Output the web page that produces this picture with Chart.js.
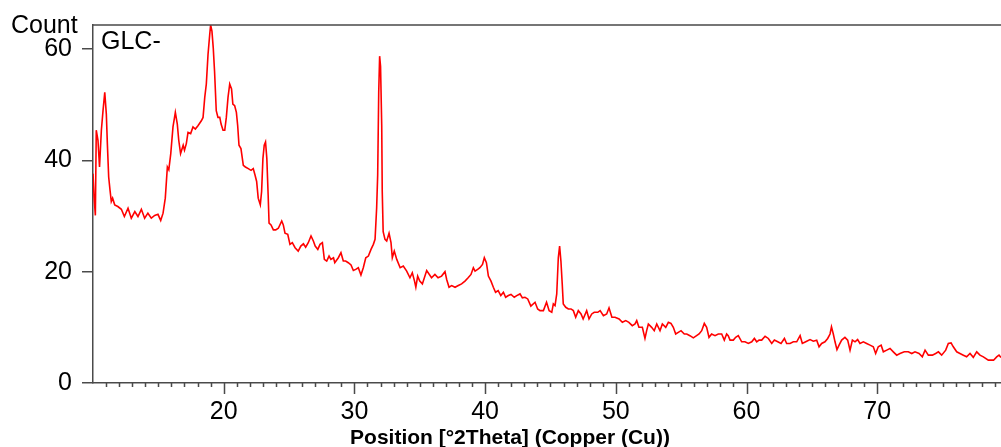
<!DOCTYPE html>
<html>
<head>
<meta charset="utf-8">
<script src="https://cdn.jsdelivr.net/npm/chart.js@4.4.1/dist/chart.umd.min.js"></script>
<style>
  html, body { margin: 0; padding: 0; background: #fff; }
  #wrap { width: 1001px; height: 447px; }
</style>
</head>
<body>
<div id="wrap"><canvas id="xrd"></canvas></div>
<script>
const dos_theta = [
  10.0, 10.08, 10.18, 10.25, 10.38, 10.5, 10.64, 10.77, 10.9, 11.02, 11.1, 11.2, 11.3, 11.4, 11.5, 11.66,
  11.9, 12.17, 12.4, 12.68, 12.93, 13.2, 13.44, 13.7, 13.95, 14.2, 14.46, 14.72, 14.97, 15.18, 15.36,
  15.53, 15.69, 15.8, 15.95, 16.12, 16.3, 16.45, 16.56, 16.7, 16.9, 17.0, 17.14, 17.27, 17.47, 17.65,
  17.83, 18.03, 18.29, 18.42, 18.55, 18.67, 18.8, 18.93, 19.0, 19.1, 19.2, 19.3, 19.43, 19.56, 19.7,
  19.8, 19.95, 20.08, 20.2, 20.33, 20.46, 20.6, 20.7, 20.84, 20.97, 21.07, 21.17, 21.32, 21.5, 21.66,
  21.88, 22.09, 22.26, 22.4, 22.52, 22.64, 22.8, 22.9, 23.0, 23.1, 23.2, 23.3, 23.4, 23.47, 23.62,
  23.8, 23.98, 24.18, 24.44, 24.56, 24.69, 24.9, 25.07, 25.25, 25.46, 25.7, 25.9, 26.1, 26.27, 26.47,
  26.68, 26.86, 27.0, 27.2, 27.37, 27.55, 27.7, 27.88, 28.06, 28.2, 28.4, 28.5, 28.77, 28.97, 29.15,
  29.33, 29.53, 29.74, 29.92, 30.1, 30.3, 30.5, 30.68, 30.87, 31.07, 31.27, 31.45, 31.58, 31.7, 31.78,
  31.86, 31.93, 32.0, 32.09, 32.13, 32.2, 32.34, 32.47, 32.65, 32.8, 32.9, 33.05, 33.24, 33.5, 33.74,
  34.0, 34.25, 34.43, 34.6, 34.7, 34.84, 35.0, 35.2, 35.53, 35.9, 36.16,
  36.4, 36.67, 36.93, 37.06, 37.24, 37.44, 37.7, 37.95, 38.2, 38.46,
  38.7, 38.92, 39.1, 39.23, 39.43, 39.6, 39.8, 39.94, 40.1, 40.25,
  40.45, 40.63, 40.8, 41.0, 41.2, 41.4, 41.57, 41.78, 41.98, 42.23,
  42.42, 42.67, 42.85, 43.05, 43.26, 43.5, 43.82, 44.02, 44.2, 44.46,
  44.7, 44.9, 45.1, 45.22, 45.35, 45.48, 45.6, 45.7, 45.8, 45.9,
  45.98, 46.17, 46.37, 46.57, 46.75, 46.93, 47.13, 47.34, 47.5, 47.77,
  47.95, 48.16, 48.35, 48.62, 48.8, 49.05, 49.3, 49.48, 49.7, 49.94,
  50.25, 50.5, 50.76, 51.0, 51.26, 51.47, 51.6, 51.77, 52.03, 52.23,
  52.36, 52.49, 52.74, 52.94, 53.13, 53.38, 53.56, 53.82, 54.02, 54.22,
  54.4, 54.58, 54.78, 54.99, 55.24, 55.43, 55.67, 55.93, 56.18, 56.37,
  56.57, 56.77, 56.95, 57.13, 57.33, 57.59, 57.84, 58.1, 58.3, 58.48,
  58.6, 58.74, 58.99, 59.17, 59.37, 59.63, 59.88, 60.14, 60.4, 60.6,
  60.78, 60.96, 61.16, 61.42, 61.67, 61.93, 62.13, 62.39, 62.64, 62.9,
  63.07, 63.33, 63.58, 63.84, 64.1, 64.27, 64.53, 64.86, 65.11, 65.37,
  65.55, 65.75, 66.0, 66.21, 66.39, 66.5, 66.64, 66.77, 66.92, 67.08,
  67.28, 67.53, 67.74, 67.92, 68.1, 68.3, 68.5, 68.68, 68.94, 69.19,
  69.45, 69.7, 69.88, 70.08, 70.3, 70.47, 70.73, 70.98, 71.23, 71.49,
  71.74, 72.07, 72.38, 72.64, 72.89, 73.2, 73.45, 73.66, 73.91, 74.22,
  74.47, 74.68, 74.93, 75.24, 75.44, 75.65, 75.82, 76.08, 76.33, 76.59,
  76.84, 77.1, 77.35, 77.61, 77.86, 78.12, 78.5, 78.9, 79.14, 79.32,
  79.47,
];
const cuentas = [
  37.6, 33.5, 30.1, 45.4, 43.6, 38.8, 45.4, 49, 52.2, 48.3, 42.9, 37, 34.7, 32.6, 33.2, 32,
  31.7, 31.2, 29.9, 31.4, 29.6, 30.8, 29.9, 31.2, 29.6, 30.5, 29.6, 30.1, 30.3, 29.2, 30.5,
  33.2, 38.8, 38.3, 41.2, 46, 48.6, 46.5, 43.6, 41.2, 42.7, 41.8, 43, 45, 44.8, 46,
  45.6, 46.2, 47.1, 47.7, 51.3, 53.7, 59, 62.6, 64.3, 63.2, 60.2, 56, 48.9, 47.7, 47.7,
  46.5, 45.4, 45.4, 47.7, 51.3, 53.7, 52.8, 50.1, 49.8, 48.6, 46.2, 42.7, 42.1, 39.1, 38.8,
  38.5, 38.2, 38.5, 37.3, 36.2, 33.2, 32, 34.4, 40.3, 42.7, 43.3, 40.3, 33.8, 28.7, 28.4,
  27.5, 27.5, 27.8, 29.1, 28.4, 26.9, 26.7, 24.9, 25.2, 24.3, 23.7, 24.6, 25, 24.4, 25.2,
  26.4, 25.5, 24.6, 24, 24.9, 25.2, 22.2, 21.9, 22.8, 22.2, 22.5, 21.6, 22.5, 23.4, 21.9,
  21.9, 21.6, 21.2, 20.2, 20.4, 20.7, 19.4, 20.7, 22.5, 22.8, 24, 24.9, 25.8, 31.4, 37.3,
  52.2, 58.7, 56.9, 46.2, 34.4, 27.2, 25.8, 25.5, 26.9, 25.2, 22.5, 23.7, 22.2, 20.7, 21,
  20.1, 18.9, 19.8, 18.3, 17.2, 19.2, 18.3, 17.8, 20.2, 18.9, 19.5,
  18.9, 19.2, 20, 18.6, 17.2, 17.5, 17.2, 17.5, 17.8, 18.3,
  18.9, 19.5, 20.7, 20.1, 20.4, 20.7, 21.3, 22.5, 21.6, 19.2,
  18.3, 17.2, 16.3, 16.6, 15.7, 16.3, 15.4, 15.7, 15.9, 15.4,
  15.7, 16, 15.3, 15.4, 15.1, 13.8, 14.5, 13.3, 13, 13,
  14.5, 13, 12.7, 14.2, 13.9, 16, 22.5, 24.6, 21.9, 17.8,
  14.2, 13.6, 13.3, 13.3, 13, 11.8, 13, 12.4, 11.5, 13,
  11.5, 12.4, 12.7, 12.7, 13, 12.1, 12.4, 13.5, 11.8, 11.8,
  11.5, 10.9, 11.2, 10.9, 10.3, 10.6, 11.2, 10, 10, 8,
  9.4, 10.6, 10, 9.4, 10.6, 9.4, 10.6, 10, 10.9, 10.7,
  10, 8.8, 9.1, 9.4, 8.8, 8.8, 8.5, 8.1, 8.5, 8.8,
  9.4, 10.7, 10, 8.2, 8.8, 8.5, 8.8, 8.8, 7.7, 8.8,
  8.5, 7.7, 7.7, 8.2, 8.5, 7.4, 7.4, 7.1, 7.4, 8,
  7.4, 7.7, 7.7, 8.4, 8, 7.1, 7.7, 7.4, 7.1, 8,
  7.1, 7.1, 7.4, 7.4, 8.5, 7.1, 7.4, 7.8, 7.5, 7.7,
  6.5, 7.1, 7.4, 8, 8.8, 10.1, 8.8, 7.4, 6, 6.8,
  7.7, 8.2, 7.7, 5.9, 7.7, 7.4, 7.8, 7.1, 7.4, 7.1,
  6.8, 6.5, 5.3, 6.5, 6.8, 5.6, 5.9, 6.2, 5.6, 5,
  5.3, 5.6, 5.6, 5.3, 5.6, 5.3, 4.7, 5.9, 5, 5,
  5.3, 5.6, 5, 5.9, 7.1, 7.2, 6.5, 5.6, 5.3, 5,
  4.7, 5.3, 4.6, 5.6, 5, 4.7, 4.1, 4.1, 4.7, 5,
  4.6,
];
const ticks_y = [0, 20, 40, 60];
const ticks_x_mayores = [20, 30, 40, 50, 60, 70];
const titulo_x = "Position [°2Theta] (Copper (Cu))";
const titulo_y = "Count";
const nombre_muestra = "GLC-";

const puntos = dos_theta.map((x, i) => ({ x: x, y: cuentas[i] }));
const gris_eje = "#4a4a4a";

// marcas del eje x (mayores largas, menores cortas), borde superior y textos
const plugin_decoracion = {
  id: "decoracion",
  afterDraw: (chart) => {
    const ctx = chart.ctx;
    const area = chart.chartArea;
    const sx = chart.scales.x;
    ctx.save();
    ctx.strokeStyle = gris_eje;
    ctx.lineWidth = 1.5;
    ctx.beginPath();
    ctx.moveTo(area.left, area.top);
    ctx.lineTo(area.right, area.top);
    for (let v = 11; v <= 79; v++) {
      const px = Math.round(sx.getPixelForValue(v)) + 0.5;
      const largo = v % 10 === 0 ? 11 : 4;
      ctx.moveTo(px, area.bottom);
      ctx.lineTo(px, area.bottom + largo);
    }
    ctx.stroke();

    ctx.fillStyle = "#000";
    ctx.textBaseline = "alphabetic";
    ctx.font = "25px 'Liberation Sans', Arial, sans-serif";
    ctx.textAlign = "left";
    ctx.fillText(titulo_y, 11, 33);
    ctx.fillText(nombre_muestra, area.left + 8, 49);
    ctx.font = "bold 21px 'Liberation Sans', Arial, sans-serif";
    ctx.textAlign = "center";
    ctx.fillText(titulo_x, 510, 444);
    ctx.restore();
  },
};

const ctx = document.getElementById("xrd").getContext("2d");
const chart_xrd = new Chart(ctx, {
  type: "line",
  data: {
    datasets: [
      {
        label: nombre_muestra,
        data: puntos,
        borderColor: "#ff0000",
        borderWidth: 1.6,
        pointRadius: 0,
        tension: 0,
        fill: false,
      },
    ],
  },
  options: {
    responsive: true,
    maintainAspectRatio: false,
    animation: false,
    layout: { padding: { top: 22, right: 0, left: 0, bottom: 0 } },
    plugins: {
      legend: { display: false },
      tooltip: { enabled: false },
      title: { display: false },
    },
    scales: {
      x: {
        type: "linear",
        min: 10,
        max: 79.47,
        afterBuildTicks: (scale) => {
          scale.ticks = ticks_x_mayores.map((v) => ({ value: v }));
        },
        afterFit: (scale) => {
          scale.height = 64;
        },
        grid: {
          display: true,
          drawOnChartArea: false,
          drawTicks: true,
          tickLength: 11,
          color: "rgba(0,0,0,0)",
        },
        border: { display: true, color: gris_eje, width: 1.5 },
        ticks: {
          autoSkip: false,
          maxRotation: 0,
          padding: 3,
          color: "#000",
          font: { family: "'Liberation Sans', Arial, sans-serif", size: 25 },
        },
      },
      y: {
        min: 0,
        max: 64.3,
        afterBuildTicks: (scale) => {
          scale.ticks = ticks_y.map((v) => ({ value: v }));
        },
        afterFit: (scale) => {
          scale.width = 93;
        },
        grid: {
          display: true,
          drawOnChartArea: false,
          drawTicks: true,
          tickLength: 11,
          color: gris_eje,
          lineWidth: 1.5,
        },
        border: { display: true, color: gris_eje, width: 1.5 },
        ticks: {
          padding: 10,
          color: "#000",
          font: { family: "'Liberation Sans', Arial, sans-serif", size: 25 },
        },
      },
    },
  },
  plugins: [plugin_decoracion],
});
</script>
</body>
</html>
